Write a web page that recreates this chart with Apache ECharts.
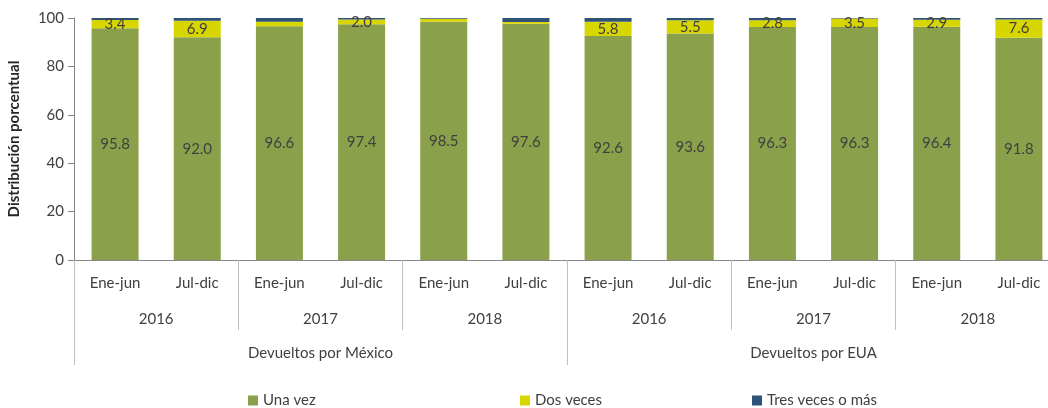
<!DOCTYPE html>
<html lang="es">
<head>
<meta charset="UTF-8">
<title>Distribución porcentual</title>
<script src="https://cdn.jsdelivr.net/npm/echarts@6/dist/echarts.min.js"></script>
<style>
  body { margin: 0; background: #fff; }
  #main { width: 1048px; height: 408px; }
</style>
</head>
<body>
<div id="main"></div>
<script>
// datos
var periodos = ['Ene-jun', 'Jul-dic', 'Ene-jun', 'Jul-dic', 'Ene-jun', 'Jul-dic',
                'Ene-jun', 'Jul-dic', 'Ene-jun', 'Jul-dic', 'Ene-jun', 'Jul-dic'];
var anios = ['2016', '2017', '2018', '2016', '2017', '2018'];
var grupos = ['Devueltos por México', 'Devueltos por EUA'];
var unaVez = [95.8, 92.0, 96.6, 97.4, 98.5, 97.6, 92.6, 93.6, 96.3, 96.3, 96.4, 91.8];
var dosVeces = [3.4, 6.9, 1.8, 2.0, 1.2, 0.7, 5.8, 5.5, 2.8, 3.5, 2.9, 7.6];
var tresMas = [0.8, 1.1, 1.6, 0.6, 0.3, 1.7, 1.6, 0.9, 0.9, 0.2, 0.7, 0.6];
var yTicks = [0, 20, 40, 60, 80, 100];

var fuente = 'Lato';
var gris = '#404040';

var myChart = echarts.init(document.getElementById('main'));

function etiqueta(minimo) {
    return {
        show: true,
        position: 'inside',
        color: gris,
        fontFamily: fuente,
        fontSize: 15,
        formatter: function (p) {
            return p.value >= minimo ? p.value.toFixed(1) : '';
        }
    };
}

var option = {
    backgroundColor: '#fff',
    animation: false,
    textStyle: { fontFamily: fuente },
    grid: { left: 74, top: 18, width: 986, height: 242, outerBoundsMode: 'none' },
    legend: [
        { data: ['Una vez'], left: 243, top: 388 },
        { data: ['Dos veces'], left: 515, top: 388 },
        { data: ['Tres veces o más'], left: 747, top: 388 }
    ].map(function (l) {
        l.itemWidth = 10; l.itemHeight = 10; l.icon = 'rect';
        l.textStyle = { color: gris, fontFamily: fuente, fontSize: 15 };
        return l;
    }),
    xAxis: [
        {
            type: 'category', data: periodos, position: 'bottom',
            axisLine: { lineStyle: { color: '#868686' } },
            axisTick: { show: false },
            axisLabel: { margin: 16, color: gris, fontSize: 15, fontFamily: fuente, interval: 0 }
        },
        {
            type: 'category', data: anios, position: 'bottom',
            axisLine: { show: false },
            axisTick: { show: true, length: 70, lineStyle: { color: '#bfbfbf' } },
            axisLabel: { margin: 52, color: gris, fontSize: 15, fontFamily: fuente, interval: 0 }
        },
        {
            type: 'category', data: grupos, position: 'bottom',
            axisLine: { show: false },
            axisTick: { show: true, length: 105, lineStyle: { color: '#bfbfbf' } },
            axisLabel: { margin: 86, color: gris, fontSize: 15, fontFamily: fuente, interval: 0 }
        }
    ],
    yAxis: {
        type: 'value', min: yTicks[0], max: yTicks[yTicks.length - 1], interval: 20,
        name: 'Distribución porcentual', nameLocation: 'middle', nameGap: 52,
        nameTextStyle: { fontWeight: 'bold', fontSize: 15, color: '#262626', fontFamily: fuente },
        axisLine: { show: true, lineStyle: { color: '#868686' } },
        axisTick: { show: true, length: 6, lineStyle: { color: '#868686' } },
        axisLabel: { color: gris, fontSize: 15, fontFamily: fuente, margin: 10 },
        splitLine: { show: false }
    },
    series: [
        {
            name: 'Una vez', type: 'bar', stack: 'total', data: unaVez, barWidth: 47,
            itemStyle: { color: '#8ba04b' }, label: etiqueta(0)
        },
        {
            name: 'Dos veces', type: 'bar', stack: 'total', data: dosVeces, barWidth: 47,
            itemStyle: { color: '#d8d600' }, label: etiqueta(2)
        },
        {
            name: 'Tres veces o más', type: 'bar', stack: 'total', data: tresMas, barWidth: 47,
            itemStyle: { color: '#2e5377' }
        }
    ]
};

myChart.setOption(option);
</script>
</body>
</html>
